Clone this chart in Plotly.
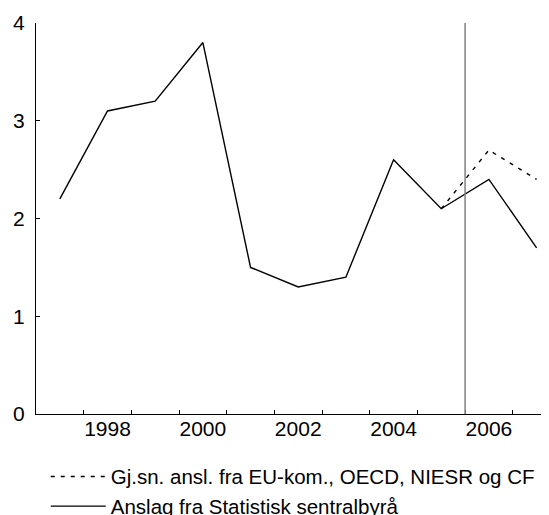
import plotly.graph_objects as go

years = [1997, 1998, 1999, 2000, 2001, 2002, 2003, 2004, 2005, 2006, 2007]
ssb = [2.2, 3.1, 3.2, 3.8, 1.5, 1.3, 1.4, 2.6, 2.1, 2.4, 1.7]
avg_years = [2005, 2006, 2007]
avg_other = [2.1, 2.7, 2.4]
label_years = [1998, 2000, 2002, 2004, 2006]
forecast_start = 2006

# plot values at mid-year
x_ssb = [y + 0.5 for y in years]
x_avg = [y + 0.5 for y in avg_years]

FONT = "Liberation Sans, Arial, sans-serif"

fig = go.Figure()
fig.add_trace(go.Scatter(
    x=x_avg, y=avg_other, mode="lines",
    name="Gj.sn. ansl. fra EU-kom., OECD, NIESR og CF",
    line=dict(color="black", width=1.4, dash="4px,6px"),
))
fig.add_trace(go.Scatter(
    x=x_ssb, y=ssb, mode="lines",
    name="Anslag fra Statistisk sentralbyrå",
    line=dict(color="black", width=1.4),
))

fig.add_shape(type="line", xref="x", yref="y",
              x0=forecast_start, x1=forecast_start, y0=0, y1=4,
              line=dict(color="#808080", width=1.5))

fig.update_layout(
    width=541, height=507,
    margin=dict(l=28, r=0, t=15, b=101, autoexpand=False),
    paper_bgcolor="white", plot_bgcolor="white",
    font=dict(family=FONT, size=21, color="black"),
    showlegend=True,
    legend=dict(x=0.019, xanchor="left", y=-0.109, yanchor="top",
                font=dict(size=20.5), itemwidth=55,
                bgcolor="rgba(0,0,0,0)", tracegroupgap=0),
)

fig.update_xaxes(
    range=[1997, 2007.76],
    tickmode="array",
    tickvals=[y + 0.5 for y in label_years],
    ticktext=[str(y) for y in label_years],
    ticks="", showgrid=False, zeroline=False, automargin=False,
    showline=True, linecolor="black", linewidth=1,
    ticklabelstandoff=-4,
    minor=dict(tickmode="array", tickvals=list(range(1998, 2008)),
               ticks="inside", ticklen=4, tickcolor="black", showgrid=False),
)
fig.update_yaxes(
    range=[0, 4],
    tickvals=[0, 1, 2, 3, 4],
    ticks="inside", ticklen=4, tickcolor="black",
    showgrid=False, zeroline=False, automargin=False,
    showline=True, linecolor="black", linewidth=1,
    ticklabelstandoff=6,
)

fig.write_html("out.html")
